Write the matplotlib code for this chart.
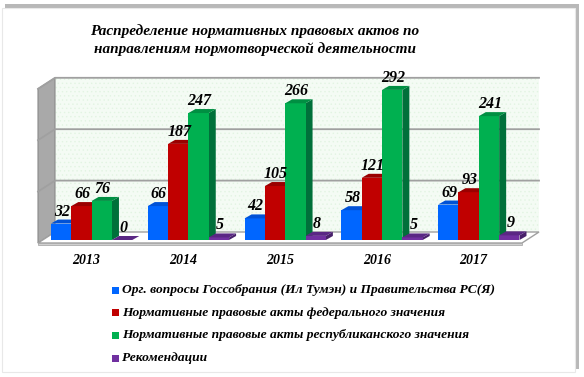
import matplotlib
matplotlib.use("Agg")
import matplotlib.pyplot as plt
from matplotlib.patches import Polygon, Rectangle

years = ["2013", "2014", "2015", "2016", "2017"]
series_names = [
    "Орг. вопросы Госсобрания (Ил Тумэн) и Правительства РС(Я)",
    "Нормативные правовые акты федерального значения",
    "Нормативные правовые акты республиканского значения",
    "Рекомендации",
]
org_questions = [32, 66, 42, 58, 69]
federal_acts = [66, 187, 105, 121, 93]
republic_acts = [76, 247, 266, 292, 241]
recommendations = [0, 5, 8, 5, 9]
series_values = [org_questions, federal_acts, republic_acts, recommendations]
title_lines = ["Распределение нормативных правовых актов по",
               "направлениям нормотворческой деятельности"]
grid_values = [100, 200, 300]

front_colors = ["#0066ff", "#c00000", "#00b050", "#7030a0"]
side_colors = ["#0046b8", "#7a0000", "#00703a", "#48206a"]
top_colors = ["#0052d6", "#9a0000", "#008f42", "#5a2784"]

FONT = "Liberation Serif"
W, H = 584, 377
fig = plt.figure(figsize=(W / 100, H / 100), dpi=100)

# frame with shadow
fig.patches.append(Rectangle((5 / W, 1 - 369 / H), 574 / W, 365 / H,
                             transform=fig.transFigure, facecolor="#b8b8b8",
                             edgecolor="none", zorder=-10))
fig.patches.append(Rectangle((2 / W, 1 - 372 / H), 573 / W, 364 / H,
                             transform=fig.transFigure, facecolor="white",
                             edgecolor="#e8e8e8", linewidth=0.8, zorder=-9))

# axes: bar front plane, value 0 at y=240px, x from 38px to 522px
ax_left, ax_right = 38, 522
y0_px, ymax = 240, 300
px_per_unit = 0.514
ax_h = ymax * px_per_unit
ax = fig.add_axes([ax_left / W, (H - y0_px) / H, (ax_right - ax_left) / W, ax_h / H])
ax.set_xlim(-0.5, len(years) - 0.5)
ax.set_ylim(0, ymax)
ax.axis("off")

xpp = (len(years)) / (ax_right - ax_left)   # data x units per pixel
ypp = ymax / ax_h                             # data y units per pixel


def poly(pts, **kw):
    p = Polygon(pts, closed=True, clip_on=False, **kw)
    ax.add_patch(p)
    return p


x_lo, x_hi = -0.5, len(years) - 0.5
bdx, bdy = 17 * xpp, 8 * ypp
fdy = -3 * ypp

plt.rcParams["hatch.linewidth"] = 0.5
# back wall
poly([(x_lo + bdx, bdy), (x_hi + bdx, bdy), (x_hi + bdx, ymax + bdy), (x_lo + bdx, ymax + bdy)],
     facecolor="#f4fbf4", edgecolor="none", zorder=1)
poly([(x_lo + bdx, bdy), (x_hi + bdx, bdy), (x_hi + bdx, ymax + bdy), (x_lo + bdx, ymax + bdy)],
     facecolor="none", edgecolor="#e2f4e2", hatch="....", linewidth=0, zorder=1.1)
# left wall
poly([(x_lo, fdy), (x_lo + bdx, bdy), (x_lo + bdx, ymax + bdy), (x_lo, ymax + fdy)],
     facecolor="#a9a9a9", edgecolor="#8a8a8a", linewidth=0.8, zorder=1.2)
# gridlines
for g in grid_values:
    ax.plot([x_lo, x_lo + bdx, x_hi + bdx], [g + fdy, g + bdy, g + bdy],
            color="#a0a0a0", linewidth=1.3, clip_on=False, zorder=1.3)
# floor
poly([(x_lo, fdy), (x_hi, fdy), (x_hi + bdx, bdy), (x_lo + bdx, bdy)],
     facecolor="white", edgecolor="#a0a0a0", linewidth=1.0, zorder=1.4)
poly([(x_lo, fdy), (x_hi, fdy), (x_hi, fdy - 1.5 * ypp), (x_lo, fdy - 1.5 * ypp)],
     facecolor="#d0d0d0", edgecolor="#a0a0a0", linewidth=0.5, zorder=1.4)

# bars
bw = 0.21
start = -0.366
ddx, ddy = 7 * xpp, 4 * ypp
for si, vals in enumerate(series_values):
    for ci, v in enumerate(vals):
        xl = ci + start + si * bw
        xr = xl + bw
        z = 3 + si * 0.01
        ax.bar(xl, v, width=bw, align="edge", color=front_colors[si],
               edgecolor="none", zorder=z, clip_on=False)
        poly([(xr, 0), (xr + ddx, ddy), (xr + ddx, v + ddy), (xr, v)],
             facecolor=side_colors[si], edgecolor="none", zorder=z - 0.005)
        poly([(xl, v), (xr, v), (xr + ddx, v + ddy), (xl + ddx, v + ddy)],
             facecolor=top_colors[si], edgecolor="none", zorder=z)
        ax.text(xl + bw / 2 + 1 * xpp, v + 12 * ypp, str(v),
                ha="center", va="center", fontsize=11.5, fontweight="bold",
                fontstyle="italic", family=FONT, zorder=10)

# category labels
for ci, y in enumerate(years):
    ax.text(ci, -20 * ypp, y, ha="center", va="center", fontsize=10,
            fontweight="bold", fontstyle="italic", family=FONT)

# title
for i, line in enumerate(title_lines):
    fig.text(255 / W, 1 - (31 + 18 * i) / H, line, ha="center", va="center",
             fontsize=11, fontweight="bold", fontstyle="italic", family=FONT)

# legend
for i, name in enumerate(series_names):
    yc = 290 + 22.7 * i
    fig.patches.append(Rectangle((112 / W, 1 - (yc + 3.5) / H), 7 / W, 7 / H,
                                 transform=fig.transFigure,
                                 facecolor=front_colors[i], edgecolor="none", zorder=5))
    fig.text(122 / W, 1 - yc / H, name, ha="left", va="center", fontsize=9.7,
             fontweight="bold", fontstyle="italic", family=FONT)

fig.savefig("out.png", dpi=100)
